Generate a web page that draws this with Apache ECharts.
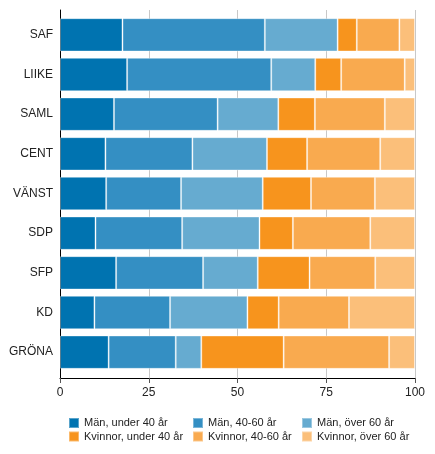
<!DOCTYPE html>
<html>
<head>
<meta charset="utf-8">
<script src="https://cdn.jsdelivr.net/npm/echarts@6/dist/echarts.min.js"></script>
<style>
  html, body { margin: 0; padding: 0; background: #fff; }
  #chart { width: 435px; height: 454px; }
</style>
</head>
<body>
<div id="chart"></div>
<script>
// partier, uppifrån och ned
const parties = ['SAF', 'LIIKE', 'SAML', 'CENT', 'VÄNST', 'SDP', 'SFP', 'KD', 'GRÖNA'];

const seriesNames = [
    'Män, under 40 år', 'Män, 40-60 år', 'Män, över 60 år',
    'Kvinnor, under 40 år', 'Kvinnor, 40-60 år', 'Kvinnor, över 60 år'
];

// andelar i procent, per parti
const menUnder40   = [17.6, 18.9, 15.2, 12.8, 13.0, 10.0, 15.8,  9.7, 13.7];
const men40to60    = [40.1, 40.6, 29.2, 24.5, 21.1, 24.4, 24.5, 21.3, 18.9];
const menOver60    = [20.5, 12.4, 17.1, 21.0, 23.0, 21.8, 15.4, 21.8,  7.2];
const womenUnder40 = [ 5.4,  7.3, 10.3, 11.3, 13.6,  9.4, 14.6,  8.8, 23.2];
const women40to60  = [12.0, 17.9, 19.7, 20.6, 18.0, 21.8, 18.5, 19.8, 29.7];
const womenOver60  = [ 4.4,  2.9,  8.5,  9.8, 11.3, 12.6, 11.2, 18.6,  7.3];

const xTicks = [0, 25, 50, 75, 100];

const colors = ['#0073b0', '#348fc3', '#66abd0', '#f7941d', '#f9aa4f', '#fbbf7a'];
const values = [menUnder40, men40to60, menOver60, womenUnder40, women40to60, womenOver60];

const font = '"Liberation Sans", Arial, sans-serif';
const chart = echarts.init(document.getElementById('chart'));

const series = seriesNames.map((name, i) => ({
    name: name,
    type: 'bar',
    stack: 'total',
    xAxisIndex: 1,
    yAxisIndex: 1,
    barCategoryGap: '16%',
    data: values[i],
    itemStyle: {
        color: colors[i],
        borderColor: 'rgba(255,255,255,0.35)',
        borderWidth: 1
    },
    emphasis: { disabled: true }
}));

function legendBlock(left, names) {
    return {
        orient: 'vertical',
        left: left,
        top: 417,
        padding: 0,
        itemWidth: 10,
        itemHeight: 10,
        itemGap: 1.5,
        icon: 'rect',
        data: names,
        textStyle: { fontFamily: font, fontSize: 11, color: '#222' }
    };
}

const option = {
    animation: false,
    color: colors,
    legend: [
        legendBlock(68, [seriesNames[0], seriesNames[3]]),
        legendBlock(192, [seriesNames[1], seriesNames[4]]),
        legendBlock(301, [seriesNames[2], seriesNames[5]])
    ],
    grid: [
        // ram med axlar och rutnät
        { left: 60, top: 10, width: 355, height: 368 },
        // staplarna
        { left: 60, top: 15, width: 355, height: 357 }
    ],
    xAxis: [
        {
            gridIndex: 0,
            type: 'value',
            min: xTicks[0],
            max: xTicks[xTicks.length - 1],
            interval: 25,
            axisLine: { show: true, lineStyle: { color: '#000', width: 1 } },
            axisTick: { show: true, length: 5, lineStyle: { color: '#555' } },
            axisLabel: { fontFamily: font, fontSize: 12, color: '#222', margin: 9 },
            splitLine: { show: true, lineStyle: { color: '#c8c8c8', width: 1 } }
        },
        {
            gridIndex: 1,
            type: 'value',
            min: 0,
            max: 100,
            show: false
        }
    ],
    yAxis: [
        {
            gridIndex: 0,
            type: 'value',
            min: 0,
            max: 1,
            axisLine: { show: true, lineStyle: { color: '#000', width: 1 } },
            axisTick: { show: false },
            axisLabel: { show: false },
            splitLine: { show: false }
        },
        {
            gridIndex: 1,
            type: 'category',
            inverse: true,
            data: parties,
            axisLine: { show: false },
            axisTick: { show: false },
            axisLabel: { fontFamily: font, fontSize: 12, color: '#222', margin: 7 }
        }
    ],
    series: series
};

chart.setOption(option);
window.addEventListener('resize', () => chart.resize());
</script>
</body>
</html>
